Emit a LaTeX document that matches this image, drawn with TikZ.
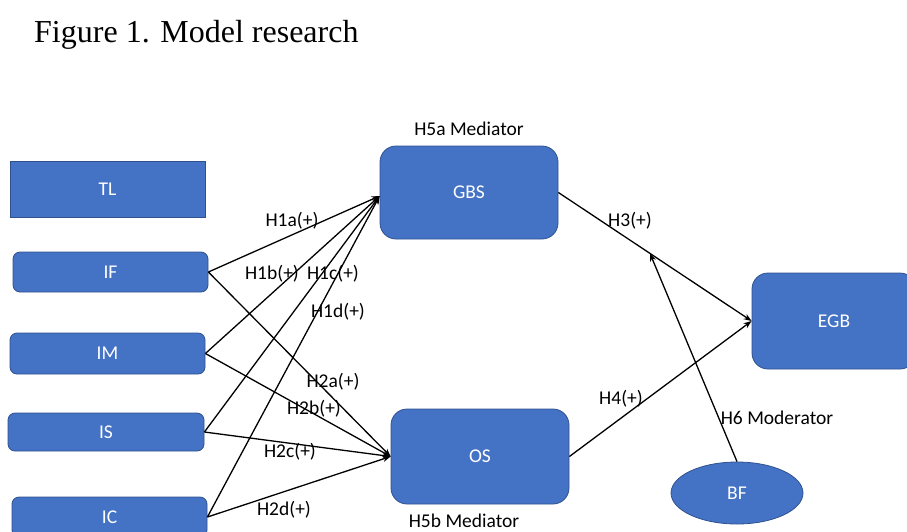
\documentclass[tikz,border=0pt]{standalone}
\usepackage{fontspec}
\setmainfont{Carlito}
\newfontfamily\titlefont{Liberation Serif}
\usetikzlibrary{arrows.meta,shapes.geometric}
\definecolor{boxblue}{HTML}{4472C4}
\definecolor{boxedge}{HTML}{2F528F}
\begin{document}
\begin{tikzpicture}[x=1pt,y=-1pt,
  every node/.style={font=\fontsize{19.5}{22}\selectfont},
  var/.style={draw=boxedge,line width=0.8pt,fill=boxblue,text=white,
              rounded corners=7pt,inner sep=0pt,minimum width=195pt,minimum height=40pt},
  bigvar/.style={var,rounded corners=16pt,minimum width=178pt,minimum height=93pt},
  lbl/.style={inner sep=0pt,text=black},
  link/.style={line width=1.3pt,-{Stealth[length=8pt,width=6pt]}}]
\useasboundingbox (0,0) rectangle (907,531);

% title
\node[lbl,anchor=base west,font=\titlefont\fontsize{32}{36}\selectfont] (title) at (34,42) {Figure 1. Model research};

% independent variables
\node[var,rounded corners=0pt,minimum height=56pt] (TL) at (107.5,189) {TL};
\node[var] (IF) at (110.5,272) {IF};
\node[var,minimum height=41pt] (IM) at (107.5,353.5) {IM};
\node[var,minimum width=196pt,minimum height=38pt] (IS) at (106,432) {IS};
\node[var] (IC) at (109.5,517) {IC};

% mediators and outcome
\node[bigvar] (GBS) at (469,192.5) {GBS};
\node[bigvar,minimum height=95pt] (OS) at (480,456.5) {OS};
\node[bigvar,minimum width=164pt,minimum height=96pt] (EGB) at (834,321) {EGB};

% moderator
\node[ellipse,draw=boxedge,line width=0.8pt,fill=boxblue,text=white,
      minimum width=132pt,minimum height=62pt,inner sep=0pt] (BF) at (737,493) {BF};

% mediator labels
\node[lbl] (m5a) at (469,129) {H5a Mediator};
\node[lbl] (m5b) at (464,521) {H5b Mediator};

% paths into GBS
\coordinate (gin) at ([yshift=-3.5pt]GBS.west);
\draw[link] (IF.east) -- (gin);
\draw[link] (IM.east) -- (gin);
\draw[link] (IS.east) -- (gin);
\draw[link] (IC.east) -- (gin);

% paths into OS
\draw[link] (IF.east) -- (OS.west);
\draw[link] (IM.east) -- (OS.west);
\draw[link] (IS.east) -- (OS.west);
\draw[link] (IC.east) -- (OS.west);

% paths into EGB
\draw[link] (GBS.east) -- (EGB.west) coordinate[pos=0.474] (mod);
\draw[link] (OS.east) -- (EGB.west);

% moderation
\draw[link] (BF.north) -- (mod);

% hypothesis labels
\node[lbl] (h1a) at (292,221) {H1a(+)};
\node[lbl] (h1b) at (272,274) {H1b(+)};
\node[lbl] (h1c) at (333,274) {H1c(+)};
\node[lbl] (h1d) at (338,312) {H1d(+)};
\node[lbl] (h2a) at (333,382) {H2a(+)};
\node[lbl] (h2b) at (314,409) {H2b(+)};
\node[lbl] (h2c) at (290,452) {H2c(+)};
\node[lbl] (h2d) at (284,510) {H2d(+)};
\node[lbl] (h3) at (630,221) {H3(+)};
\node[lbl] (h4) at (621,399) {H4(+)};
\node[lbl] (h6) at (777,418) {H6 Moderator};
\end{tikzpicture}
\end{document}
